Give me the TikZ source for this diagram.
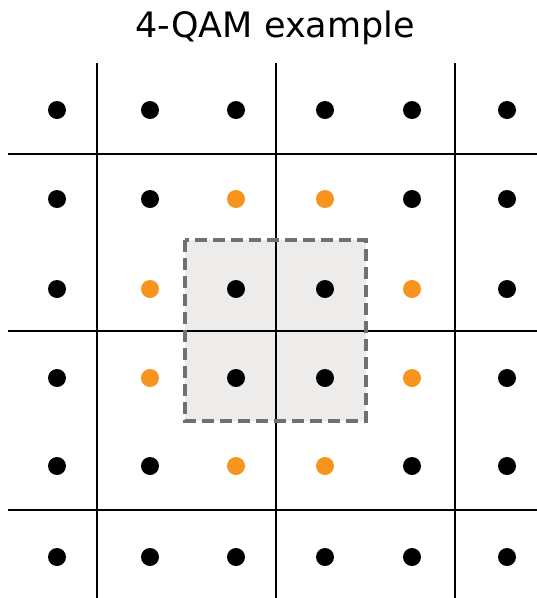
\documentclass[tikz,border=0pt]{standalone}
\usepackage{fontspec}
\setmainfont{DejaVu Sans}
\definecolor{qamorange}{RGB}{247,148,30}
\definecolor{boxgray}{RGB}{238,236,234}
\definecolor{dashgray}{RGB}{112,112,112}
\begin{document}
\begin{tikzpicture}[x=1pt, y=-1pt,
  dot/.style={circle, fill, inner sep=0pt, minimum size=18pt},
  orangedot/.style={dot, fill=qamorange},
  gridline/.style={line width=2.6pt},
  region/.style={dashgray, line width=4.5pt, dash pattern=on 12pt off 6pt}]
\useasboundingbox (0,0) rectangle (537,598);

% title
\node[font=\fontsize{35}{40}\selectfont] (title) at (275,28) {4-QAM example};

% decision region of the 4-QAM points
\fill[boxgray] (185,240) rectangle (366,421);

% grid
\foreach \x in {97,276,455}
  \draw[gridline] (\x,63) -- (\x,598);
\foreach \y in {154,331,510}
  \draw[gridline] (8,\y) -- (537,\y);

\draw[region] (185,240) rectangle (366,421);

% constellation points
\foreach \r/\c in {1/1,1/2,1/3,1/4,1/5,1/6,
                   2/1,2/2,2/5,2/6,
                   3/1,3/3,3/4,3/6,
                   4/1,4/3,4/4,4/6,
                   5/1,5/2,5/5,5/6,
                   6/1,6/2,6/3,6/4,6/5,6/6} {
  \pgfmathsetmacro\px{{57,150,236,325,412,507}[\c-1]}
  \pgfmathsetmacro\py{{110,199,289,378,466,557}[\r-1]}
  \node[dot] (d\r\c) at (\px,\py) {};
}
\foreach \r/\c in {2/3,2/4,3/2,3/5,4/2,4/5,5/3,5/4} {
  \pgfmathsetmacro\px{{57,150,236,325,412,507}[\c-1]}
  \pgfmathsetmacro\py{{110,199,289,378,466,557}[\r-1]}
  \node[orangedot] (d\r\c) at (\px,\py) {};
}
\end{tikzpicture}
\end{document}
